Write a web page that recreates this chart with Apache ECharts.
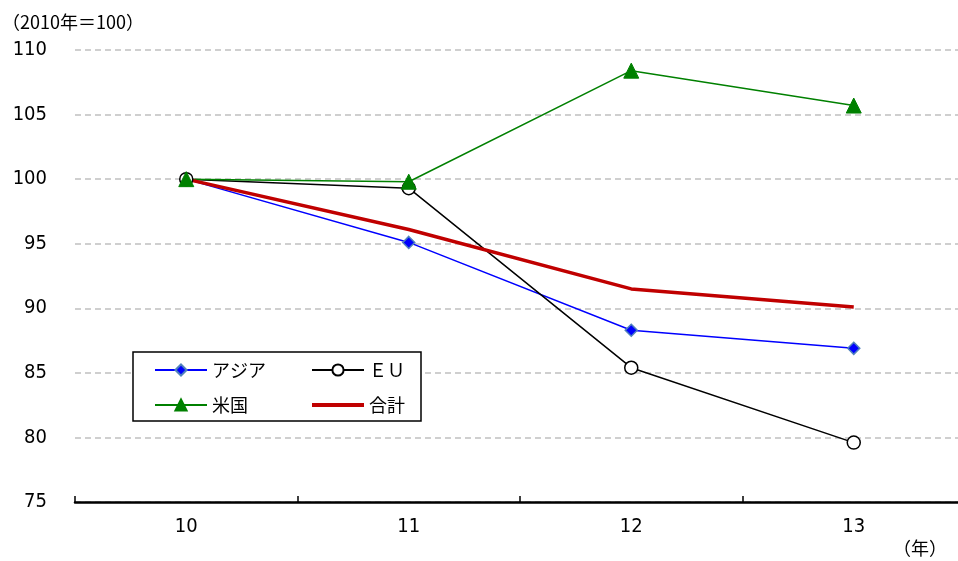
<!DOCTYPE html>
<html>
<head>
<meta charset="utf-8">
<script src="https://cdn.jsdelivr.net/npm/echarts@6/dist/echarts.min.js"></script>
<style>
  html, body { margin: 0; padding: 0; background: #fff; overflow: hidden; }
  #frame { width: 958px; height: 561px; overflow: hidden; }
  /* the last category band runs slightly past the right edge of the frame */
  #chart { width: 965px; height: 561px; }
</style>
</head>
<body>
<div id="frame"><div id="chart"></div></div>
<script>
// Index values, 2010 = 100
const years = ['10', '11', '12', '13'];
const asia = [100, 95.1, 88.3, 86.9];
const eu = [100, 99.3, 85.4, 79.6];
const usa = [100, 99.8, 108.4, 105.7];
const total = [100, 96.1, 91.5, 90.1];
const yTicks = { min: 75, max: 110, step: 5 };

const NUM_FONT = '"DejaVu Sans Condensed", "Noto Sans CJK JP", sans-serif';
const JP_FONT = '"Noto Sans CJK JP", sans-serif';
const chart = echarts.init(document.getElementById('chart'), null, { renderer: 'canvas' });

const legendCommon = {
  orient: 'vertical',
  itemGap: 17,
  itemWidth: 52, itemHeight: 14,
  padding: 0,
  textStyle: { fontFamily: JP_FONT, fontSize: 18, color: '#000' }
};

chart.setOption({
  animation: false,
  backgroundColor: '#ffffff',
  textStyle: { fontFamily: NUM_FONT, color: '#000' },
  grid: { left: 75, right: 0, top: 50, bottom: 59 },
  graphic: [
    { type: 'text', left: 2, top: 13,
      style: { text: '（2010年＝100）', font: '18px ' + JP_FONT, fill: '#000' } },
    { type: 'text', left: 893, top: 539,
      style: { text: '（年）', font: '18px ' + JP_FONT, fill: '#000' } },
    { type: 'rect', shape: { x: 133, y: 352, width: 288, height: 69 },
      style: { fill: '#fff', stroke: '#000', lineWidth: 1.5 }, z: 5 }
  ],
  legend: [
    Object.assign({}, legendCommon, {
      left: 154, top: 361, z: 10,
      data: ['アジア', '米国']
    }),
    Object.assign({}, legendCommon, {
      left: 311, top: 361, z: 10,
      data: ['ＥＵ', { name: '合計', icon: 'path://M0,0h52v4h-52z' }]
    })
  ],
  xAxis: {
    type: 'category',
    data: years,
    boundaryGap: true,
    axisLine: { lineStyle: { color: '#000', width: 2.5 } },
    axisTick: { show: true, interval: 0, inside: true, length: 6, lineStyle: { color: '#000', width: 1.5 } },
    axisLabel: { color: '#000', fontSize: 20, margin: 15, fontFamily: NUM_FONT }
  },
  yAxis: {
    type: 'value',
    min: yTicks.min, max: yTicks.max, interval: yTicks.step,
    axisLine: { show: false },
    axisTick: { show: false },
    axisLabel: { color: '#000', fontSize: 20, margin: 28, fontFamily: NUM_FONT },
    splitLine: { lineStyle: { color: '#c0c0c0', type: [6, 4], width: 1.5 } }
  },
  series: [
    { name: 'アジア', type: 'line', data: asia,
      symbol: 'diamond', symbolSize: 12,
      lineStyle: { color: '#0000ff', width: 1.5 },
      itemStyle: { color: '#0000ff', borderColor: '#4f81bd', borderWidth: 1.5 } },
    { name: 'ＥＵ', type: 'line', data: eu,
      symbol: 'circle', symbolSize: 13,
      lineStyle: { color: '#000', width: 1.5 },
      itemStyle: { color: '#fff', borderColor: '#000', borderWidth: 1.5 } },
    { name: '米国', type: 'line', data: usa,
      symbol: 'triangle', symbolSize: 15,
      lineStyle: { color: '#008000', width: 1.5 },
      itemStyle: { color: '#008000', borderColor: '#008000', borderWidth: 1 } },
    { name: '合計', type: 'line', data: total,
      symbol: 'none',
      lineStyle: { color: '#c00000', width: 3.5 },
      itemStyle: { color: '#c00000' } }
  ]
});
</script>
</body>
</html>
